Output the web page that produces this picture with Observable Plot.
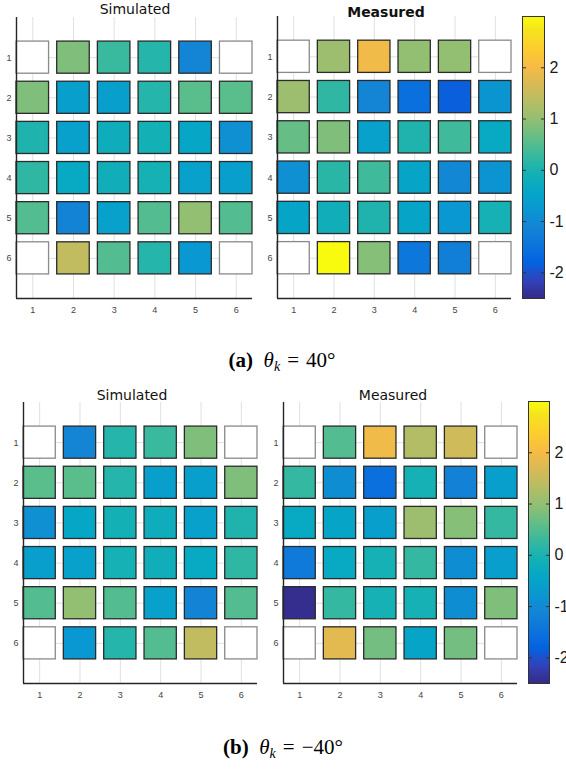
<!DOCTYPE html>
<html><head><meta charset="utf-8">
<script src="https://cdn.jsdelivr.net/npm/d3@7"></script>
<script src="https://cdn.jsdelivr.net/npm/@observablehq/plot@0.6"></script>
<style>
html,body{margin:0;padding:0;background:#fff;}
#page{position:relative;width:566px;height:771px;overflow:hidden;background:#fff;}
#page svg{position:absolute;overflow:visible;}
.title{position:absolute;font-family:"DejaVu Sans",Arial,sans-serif;font-size:14px;color:#111;transform:translate(-50%,-50%);white-space:nowrap;}
.cap{position:absolute;font-family:"Liberation Serif","Times New Roman",serif;font-size:21px;color:#000;transform:translate(-50%,-50%);white-space:nowrap;}
.cap sub{font-size:14px;vertical-align:-4px;line-height:0;}
.cap .eq{margin:0 7px;}
</style></head><body><div id="page"></div>
<script>
// ---------- data ----------
const columns = [1, 2, 3, 4, 5, 6];
const rows = [1, 2, 3, 4, 5, 6];
const colorbarTicks = [-2, -1, 0, 1, 2];
const colorDomain = [-2.5, 3];

const simulatedA = [
  [null, 0.85, 0.3, 0.1, -1.1, null],
  [0.85, -0.6, -0.6, 0.1, 0.55, 0.55],
  [0.05, -0.55, -0.2, -0.1, -0.4, -0.9],
  [0.2, -0.35, -0.15, -0.05, -0.55, -0.6],
  [0.5, -1.15, -0.55, 0.5, 1.0, 0.5],
  [null, 1.45, 0.5, 0.1, -0.75, null]
];
const measuredA = [
  [null, 1.1, 1.95, 1.0, 1.0, null],
  [1.1, 0.2, -1.1, -1.55, -1.85, -0.8],
  [0.65, 0.85, -0.55, 0.05, 0.35, -0.35],
  [-0.9, 0.15, 0.35, -0.45, -1.05, -0.85],
  [-0.45, -0.15, 0.05, -0.45, -0.75, -0.05],
  [null, 3.0, 0.9, -1.4, -1.25, null]
];
const simulatedB = [
  [null, -1.1, 0.1, 0.3, 0.85, null],
  [0.55, 0.55, 0.1, -0.6, -0.6, 0.85],
  [-0.9, -0.4, -0.1, -0.2, -0.55, 0.05],
  [-0.6, -0.55, -0.05, -0.15, -0.35, 0.2],
  [0.5, 1.0, 0.5, -0.55, -1.15, 0.5],
  [null, -0.75, 0.1, 0.5, 1.45, null]
];
const measuredB = [
  [null, 0.5, 1.95, 1.3, 1.6, null],
  [0.25, -0.95, -1.55, -0.05, -1.2, -0.6],
  [-0.35, -0.45, -0.6, 1.1, 0.9, 0.25],
  [-1.35, -0.35, -0.05, 0.25, -0.95, -0.6],
  [-2.45, 0.25, -0.05, -0.05, -0.95, 0.85],
  [null, 1.8, 0.75, -0.45, 0.75, null]
];
const panelTitles = ["Simulated", "Measured"];

// parula colormap samples (MATLAB)
const parulaColors = ["#352a87","#3243ba","#0363e1","#0d75dc","#1485d4","#0998d1","#06a7c6","#15b1b4",
  "#38b99e","#65be86","#92bf73","#b7bd64","#d9ba56","#f8bb44","#fcce2e","#f5e41d","#f9fb0e"];
const parulaIndex = [0,4,8,12,16,20,24,28,32,36,40,44,48,52,56,60,63];

// ---------- setup ----------
const parula = d3.scaleLinear().domain(parulaIndex.map(i => i / 63)).range(parulaColors)
  .interpolate(d3.interpolateRgb).clamp(true);
const colorOpts = {type: "linear", domain: colorDomain, interpolate: t => parula(t)};
const xDomain = [0.6, 6.4];
const yDomain = [0, 7];
const half = 0.4;
const page = document.getElementById("page");
const FONT = "'Liberation Sans', Arial, sans-serif";

function place(svg, left, top) {
  svg.style.left = left + "px";
  svg.style.top = top + "px";
  page.appendChild(svg);
}

function heat(matrix, box) {
  const cells = [];
  matrix.forEach((r, i) => r.forEach((v, j) => cells.push({row: rows[i], col: columns[j], v})));
  const ml = 20, mr = 4, mt = 4, mb = 24;
  const svg = Plot.plot({
    width: box.R - box.L + ml + mr,
    height: box.B - box.T + mt + mb,
    marginLeft: ml, marginRight: mr, marginTop: mt, marginBottom: mb,
    style: {background: "transparent", fontFamily: FONT},
    x: {domain: xDomain},
    y: {domain: yDomain, reverse: true},
    color: colorOpts,
    marks: [
      Plot.gridX(columns, {stroke: "#e0e0e0", strokeOpacity: 1}),
      Plot.gridY(rows, {stroke: "#e0e0e0", strokeOpacity: 1}),
      Plot.rect(cells.filter(d => d.v == null), {
        x1: d => d.col - half, x2: d => d.col + half, y1: d => d.row - half, y2: d => d.row + half,
        fill: "white", stroke: "#8a8a8a", strokeWidth: 1.3
      }),
      Plot.rect(cells.filter(d => d.v != null), {
        x1: d => d.col - half, x2: d => d.col + half, y1: d => d.row - half, y2: d => d.row + half,
        fill: "v", stroke: "#2b2b2b", strokeWidth: 1.3
      }),
      Plot.ruleX([xDomain[0]], {stroke: "#262626", strokeWidth: 1.4}),
      Plot.ruleY([yDomain[1]], {stroke: "#262626", strokeWidth: 1.4}),
      Plot.axisX(columns, {tickSize: 0, tickPadding: 8, fontSize: 9, fill: "#444", tickFormat: d => String(d)}),
      Plot.axisY(rows, {tickSize: 0, tickPadding: 5, fontSize: 9, fill: "#444", tickFormat: d => String(d)})
    ]
  });
  place(svg, box.L - ml, box.T - mt);
}

function colorbar(box) {
  const ml = 1, mr = 40, mt = 1, mb = 1;
  const svg = Plot.plot({
    width: box.R - box.L + ml + mr,
    height: box.B - box.T + mt + mb,
    marginLeft: ml, marginRight: mr, marginTop: mt, marginBottom: mb,
    style: {background: "transparent", fontFamily: FONT},
    x: {domain: [0, 1], axis: null},
    y: {domain: colorDomain},
    color: colorOpts,
    marks: [
      Plot.raster({x1: 0, x2: 1, y1: colorDomain[0], y2: colorDomain[1], width: 1, height: 300,
        fill: (x, y) => y, imageRendering: "auto"}),
      Plot.frame({stroke: "#333", strokeWidth: 1}),
      Plot.axisY(colorbarTicks, {anchor: "right", tickSize: -4, stroke: "#333", tickFormat: () => ""}),
      Plot.axisY(colorbarTicks, {anchor: "left", tickSize: -4, stroke: "#333", tickFormat: () => ""}),
      Plot.axisY(colorbarTicks, {anchor: "right", tickSize: 0, tickPadding: 5, fontSize: 16, fill: "#1a1a1a",
        tickFormat: d => String(d)})
    ]
  });
  place(svg, box.L - ml, box.T - mt);
}

function title(text, x, y, bold) {
  const d = document.createElement("div");
  d.className = "title";
  d.textContent = text;
  d.style.left = x + "px"; d.style.top = y + "px";
  if (bold) d.style.fontWeight = "bold";
  page.appendChild(d);
}
function caption(html, x, y) {
  const d = document.createElement("div");
  d.className = "cap";
  d.innerHTML = html;
  d.style.left = x + "px"; d.style.top = y + "px";
  page.appendChild(d);
}

// panel (a)
heat(simulatedA, {L: 16, R: 252, T: 17, B: 298});
heat(measuredA, {L: 277, R: 511, T: 16, B: 298});
colorbar({L: 522, R: 544, T: 16, B: 298});
title(panelTitles[0], 135, 9, false);
title(panelTitles[1], 386, 12, true);
caption("<b>(a)</b>&nbsp; <i>θ<sub>k</sub></i><span class='eq'>=</span>40°", 282, 360);

// panel (b)
heat(simulatedB, {L: 23, R: 257, T: 402, B: 683});
heat(measuredB, {L: 283, R: 517, T: 402, B: 683});
colorbar({L: 528, R: 549, T: 401, B: 683});
title(panelTitles[0], 132, 395, false);
title(panelTitles[1], 393, 395, false);
caption("<b>(b)</b>&nbsp; <i>θ<sub>k</sub></i><span class='eq'>=</span>−40°", 283, 747);
</script></body></html>
